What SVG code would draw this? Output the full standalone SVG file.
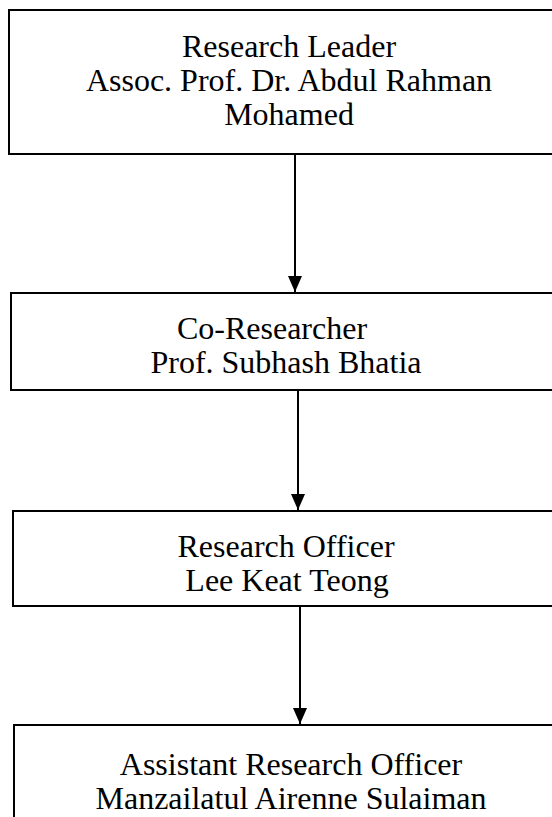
<svg xmlns="http://www.w3.org/2000/svg" width="552" height="817" viewBox="0 0 552 817">
<style>
.box{fill:#fff;stroke:#000;stroke-width:2}
.t{font-family:"Liberation Serif","Times New Roman",serif;font-size:32px;fill:#000;text-anchor:middle}
.c{stroke:#000;stroke-width:2;fill:none}
</style>
<defs>
<marker id="ah" markerUnits="userSpaceOnUse" markerWidth="18" markerHeight="16" viewBox="0 0 18 16" refX="17" refY="8" orient="auto">
<path d="M1,1 L17,8 L1,15 Z" fill="#000"/>
</marker>
</defs>
<rect width="552" height="817" fill="#fff"/>
<g id="node1">
<rect class="box" x="9" y="10" width="560" height="144"/>
<text class="t" x="289" y="57">Research Leader</text>
<text class="t" x="289" y="91">Assoc. Prof. Dr. Abdul Rahman</text>
<text class="t" x="289" y="125">Mohamed</text>
</g>
<g id="node2">
<rect class="box" x="11" y="293" width="560" height="97"/>
<text class="t" x="272" y="339">Co-Researcher</text>
<text class="t" x="286" y="373">Prof. Subhash Bhatia</text>
</g>
<g id="node3">
<rect class="box" x="13" y="511" width="560" height="95"/>
<text class="t" x="286" y="557">Research Officer</text>
<text class="t" x="287" y="591">Lee Keat Teong</text>
</g>
<g id="node4">
<rect class="box" x="14" y="725" width="560" height="120"/>
<text class="t" x="291" y="775">Assistant Research Officer</text>
<text class="t" x="291" y="809">Manzailatul Airenne Sulaiman</text>
</g>
<g id="connectors">
<line class="c" x1="295" y1="154" x2="295" y2="292" marker-end="url(#ah)"/>
<line class="c" x1="298" y1="390" x2="298" y2="510" marker-end="url(#ah)"/>
<line class="c" x1="300" y1="606" x2="300" y2="724" marker-end="url(#ah)"/>
</g>
</svg>
